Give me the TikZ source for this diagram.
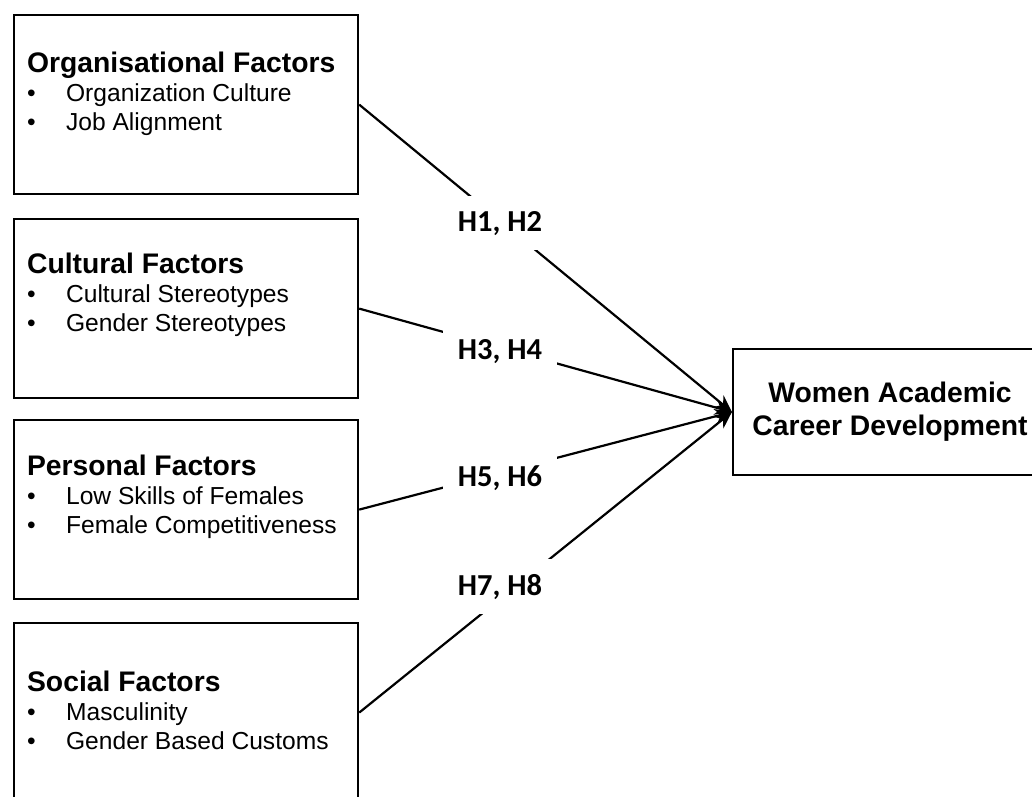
\documentclass[tikz,border=0pt]{standalone}
\usepackage{fontspec}
\setmainfont{Liberation Sans}
\newfontfamily\hypfont{Carlito}
\usetikzlibrary{arrows.meta}
\newcommand{\itm}[1]{\makebox[39pt][l]{\textbullet}#1}
\newcommand{\hd}[1]{{\fontsize{28.3}{29}\selectfont\bfseries #1}}
\begin{document}
\begin{tikzpicture}[x=1pt,y=-1pt,line width=2.2pt,
  box/.style={draw,anchor=north west,minimum width=344pt,minimum height=179pt,inner sep=0pt},
  lst/.style={anchor=base west,align=left,inner sep=0pt,font=\fontsize{24.6}{29}\selectfont},
  hyp/.style={anchor=base,fill=white,inner xsep=15pt,inner ysep=15pt,font=\hypfont\bfseries\fontsize{30.5}{36}\selectfont},
  >={Stealth[length=17pt,width=15pt]}]
\clip (0,0) rectangle (1032,796);
\node[box](org) at (13,14){};
\node[box](cul) at (13,218){};
\node[box](per) at (13,419){};
\node[box](soc) at (13,622){};
\node[draw,minimum width=314pt,minimum height=126pt,align=center,font=\fontsize{28.3}{33}\selectfont\bfseries](wacd) at (890,412){Women Academic\\Career Development};
% lst nodes sit on the baseline of their last line
\node[lst](orgtxt) at (26,130){\hd{Organisational Factors}\\\itm{Organization Culture}\\\itm{Job Alignment}};
\node[lst](cultxt) at (26,331){\hd{Cultural Factors}\\\itm{Cultural Stereotypes}\\\itm{Gender Stereotypes}};
\node[lst](pertxt) at (26,533){\hd{Personal Factors}\\\itm{Low Skills of Females}\\\itm{Female Competitiveness}};
\node[lst](soctxt) at (26,749){\hd{Social Factors}\\\itm{Masculinity}\\\itm{Gender Based Customs}};
\draw[->](org.east)--(wacd.west);
\draw[->](cul.east)--(wacd.west);
\draw[->](per.east)--(wacd.west);
\draw[->](soc.east)--(wacd.west);
\node[hyp](h12) at (500,231){H1, H2};
\node[hyp](h34) at (500,359){H3, H4};
\node[hyp](h56) at (500,486){H5, H6};
\node[hyp](h78) at (500,595){H7, H8};
\end{tikzpicture}
\end{document}
